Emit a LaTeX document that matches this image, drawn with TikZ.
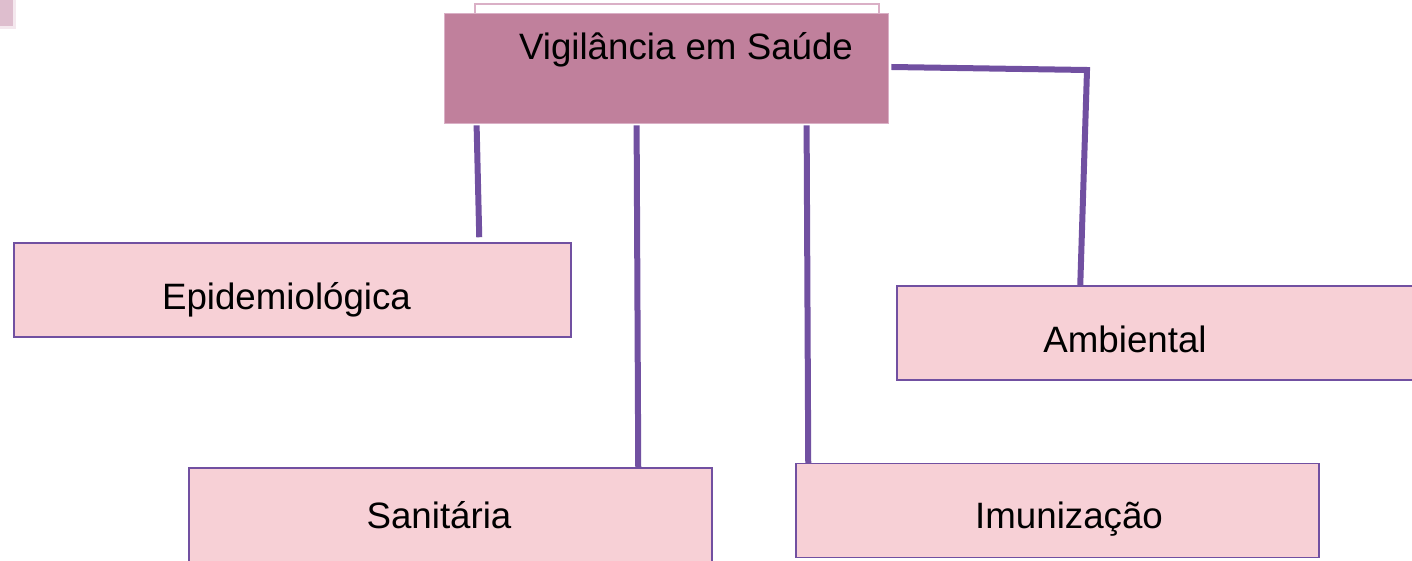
\documentclass[tikz,border=0pt]{standalone}
\usepackage{fontspec}
\setmainfont{Liberation Sans}
\usetikzlibrary{positioning}
\definecolor{mauve}{RGB}{192,128,156}
\definecolor{rosa}{RGB}{247,208,214}
\definecolor{roxo}{RGB}{113,80,161}
\definecolor{lilas}{RGB}{218,176,198}
\definecolor{canto}{RGB}{222,190,206}
\tikzset{x=1pt,y=-1pt,
  topbox/.style={fill=mauve,draw=lilas,line width=0.8pt,minimum width=444pt,minimum height=110pt,inner sep=0pt},
  backbox/.style={fill=white,draw=lilas,line width=1.2pt,minimum width=404pt,minimum height=20pt,inner sep=0pt},
  area/.style={fill=rosa,draw=roxo,line width=1.5pt,minimum height=94pt,inner sep=0pt},
  txt/.style={anchor=base,inner sep=0pt,font=\fontsize{36.7}{40}\selectfont},
  link/.style={draw=roxo,line width=6pt}}

\begin{document}
\begin{tikzpicture}
        \useasboundingbox (0,0) rectangle (1412,561);
        \fill[canto!35] (0,0) rectangle (16,29);
        \fill[canto] (0,0) rectangle (13,26);
        \node[backbox] (vsback) at (677,14) {};
        \node[topbox] (vs) at (666,68) {};
        \node[txt] (vst) at ([xshift=20pt,yshift=8.5pt]vs.center) {Vigilância em Saúde};
        \node[area, minimum width=557pt] (epi) at (292.5,290) {};
        \node[txt] (epit) at ([xshift=-6pt,yshift=-19pt]epi.center) {Epidemiológica};
        \node[area, minimum width=533pt] (amb) at (1163.5,333) {};
        \node[txt] (ambt) at ([xshift=-38.5pt,yshift=-19pt]amb.center) {Ambiental};
        \node[area, minimum width=523pt] (sani) at (450.5,515) {};
        \node[txt] (sanit) at ([xshift=-11.5pt,yshift=-13pt]sani.center) {Sanitária};
        \node[area, minimum width=523pt] (imu) at (1057.5,510.5) {};
        \node[txt] (imut) at ([xshift=11.5pt,yshift=-18pt]imu.center) {Imunização};
        \coordinate (dobra) at (1087,70);
        \draw[link] ([xshift=33pt,yshift=-2pt]vs.south west) -- ([xshift=466pt,yshift=5pt]epi.north west);
        \draw[link] ([xshift=193pt,yshift=-2pt]vs.south west) -- ([xshift=450pt,yshift=-1pt]sani.north west);
        \draw[link] ([xshift=363pt,yshift=-2pt]vs.south west) -- ([xshift=13pt,yshift=-1pt]imu.north west);
        \draw[link] ([xshift=3pt,yshift=1pt]vs.east) -- (dobra) -- ([xshift=184pt]amb.north west);
    \end{tikzpicture}
\end{document}
